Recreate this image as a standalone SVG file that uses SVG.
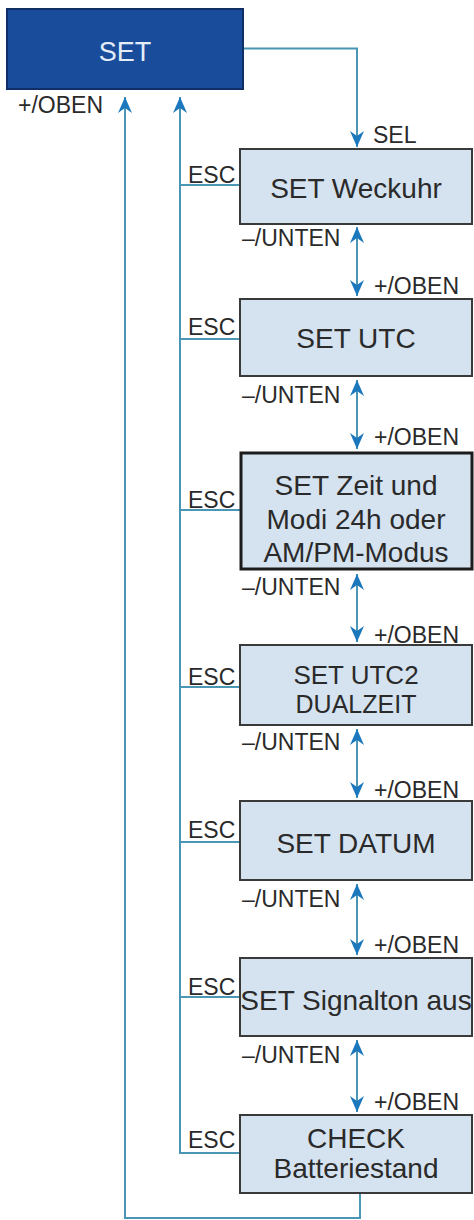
<svg xmlns="http://www.w3.org/2000/svg" width="474" height="1220" viewBox="0 0 474 1220">
<style>
.bg{fill:#ffffff}
.node{fill:#d5e2ef;stroke:#3a3a3a;stroke-width:2}
.node.thick{stroke:#1c1c1c;stroke-width:3}
.top{fill:#1a4c9c;stroke:#0f2f66;stroke-width:2}
.t{font-family:"Liberation Sans",Arial,sans-serif;font-size:28px;fill:#2a2a2a;text-anchor:middle}
.tt{font-family:"Liberation Sans",Arial,sans-serif;font-size:27px;fill:#e3ecf7;text-anchor:middle}
.lbl{font-family:"Liberation Sans",Arial,sans-serif;font-size:23px;fill:#2a2a2a}
.ln{fill:none;stroke:#4a96b4;stroke-width:2}
.arr{marker-end:url(#ah)}
.dbl{marker-start:url(#ah);marker-end:url(#ah)}
</style>
<defs>
<marker id="ah" viewBox="0 0 16 16" refX="16" refY="8" markerWidth="16" markerHeight="16" markerUnits="userSpaceOnUse" orient="auto-start-reverse">
<path d="M0,1 L16,8 L0,15 L5,8 Z" fill="#1c78bd"/>
</marker>
</defs>
<rect class="bg" x="0" y="0" width="474" height="1220"/>

<g id="connectors">
<path class="ln arr" d="M243,48.5 H357 V147"/>
<path class="ln arr" d="M360,1193 V1218 H125 V97"/>
<path class="ln arr" d="M240,1153 H180 V97"/>
<path class="ln" d="M180,185 H240"/>
<path class="ln" d="M180,339 H240"/>
<path class="ln" d="M180,510 H240"/>
<path class="ln" d="M180,687 H240"/>
<path class="ln" d="M180,842 H240"/>
<path class="ln" d="M180,997 H240"/>
<path class="ln dbl" d="M357,227 V296"/>
<path class="ln dbl" d="M357,380 V449"/>
<path class="ln dbl" d="M357,574 V642"/>
<path class="ln dbl" d="M357,729 V798"/>
<path class="ln dbl" d="M357,884 V955"/>
<path class="ln dbl" d="M357,1040 V1112"/>
</g>

<g id="labels">
<text class="lbl" x="18" y="113">+/OBEN</text>
<text class="lbl" x="373" y="143">SEL</text>
<text class="lbl" x="188" y="183">ESC</text>
<text class="lbl" x="188" y="335">ESC</text>
<text class="lbl" x="188" y="508">ESC</text>
<text class="lbl" x="188" y="685">ESC</text>
<text class="lbl" x="188" y="838">ESC</text>
<text class="lbl" x="188" y="995">ESC</text>
<text class="lbl" x="188" y="1148">ESC</text>
<text class="lbl" x="242" y="246">–/UNTEN</text>
<text class="lbl" x="242" y="403">–/UNTEN</text>
<text class="lbl" x="242" y="595">–/UNTEN</text>
<text class="lbl" x="242" y="750">–/UNTEN</text>
<text class="lbl" x="242" y="907">–/UNTEN</text>
<text class="lbl" x="242" y="1063">–/UNTEN</text>
<text class="lbl" x="374" y="294">+/OBEN</text>
<text class="lbl" x="374" y="445">+/OBEN</text>
<text class="lbl" x="374" y="643">+/OBEN</text>
<text class="lbl" x="374" y="798">+/OBEN</text>
<text class="lbl" x="374" y="953">+/OBEN</text>
<text class="lbl" x="374" y="1110">+/OBEN</text>
</g>

<g id="n-set">
<rect class="top" x="7" y="9" width="236" height="80"/>
<text class="tt" x="125" y="61">SET</text>
</g>
<g id="n-weckuhr">
<rect class="node" x="240" y="149" width="232" height="75"/>
<text class="t" x="356" y="198">SET Weckuhr</text>
</g>
<g id="n-utc">
<rect class="node" x="240" y="299" width="232" height="77"/>
<text class="t" x="356" y="348">SET UTC</text>
</g>
<g id="n-zeit">
<rect class="node thick" x="241" y="453" width="231" height="116"/>
<text class="t" x="356" y="495">SET Zeit und</text>
<text class="t" x="356" y="529">Modi 24h oder</text>
<text class="t" x="356" y="562">AM/PM-Modus</text>
</g>
<g id="n-utc2">
<rect class="node" x="240" y="645" width="232" height="80"/>
<text class="t" x="356" y="684" style="font-size:26px">SET UTC2</text>
<text class="t" x="356" y="713" style="font-size:25px">DUALZEIT</text>
</g>
<g id="n-datum">
<rect class="node" x="240" y="801" width="232" height="79"/>
<text class="t" x="356" y="853">SET DATUM</text>
</g>
<g id="n-signalton">
<rect class="node" x="240" y="958" width="232" height="78"/>
<text class="t" x="356" y="1010">SET Signalton aus</text>
</g>
<g id="n-check">
<rect class="node" x="240" y="1115" width="232" height="78"/>
<text class="t" x="356" y="1148">CHECK</text>
<text class="t" x="356" y="1178">Batteriestand</text>
</g>
</svg>
